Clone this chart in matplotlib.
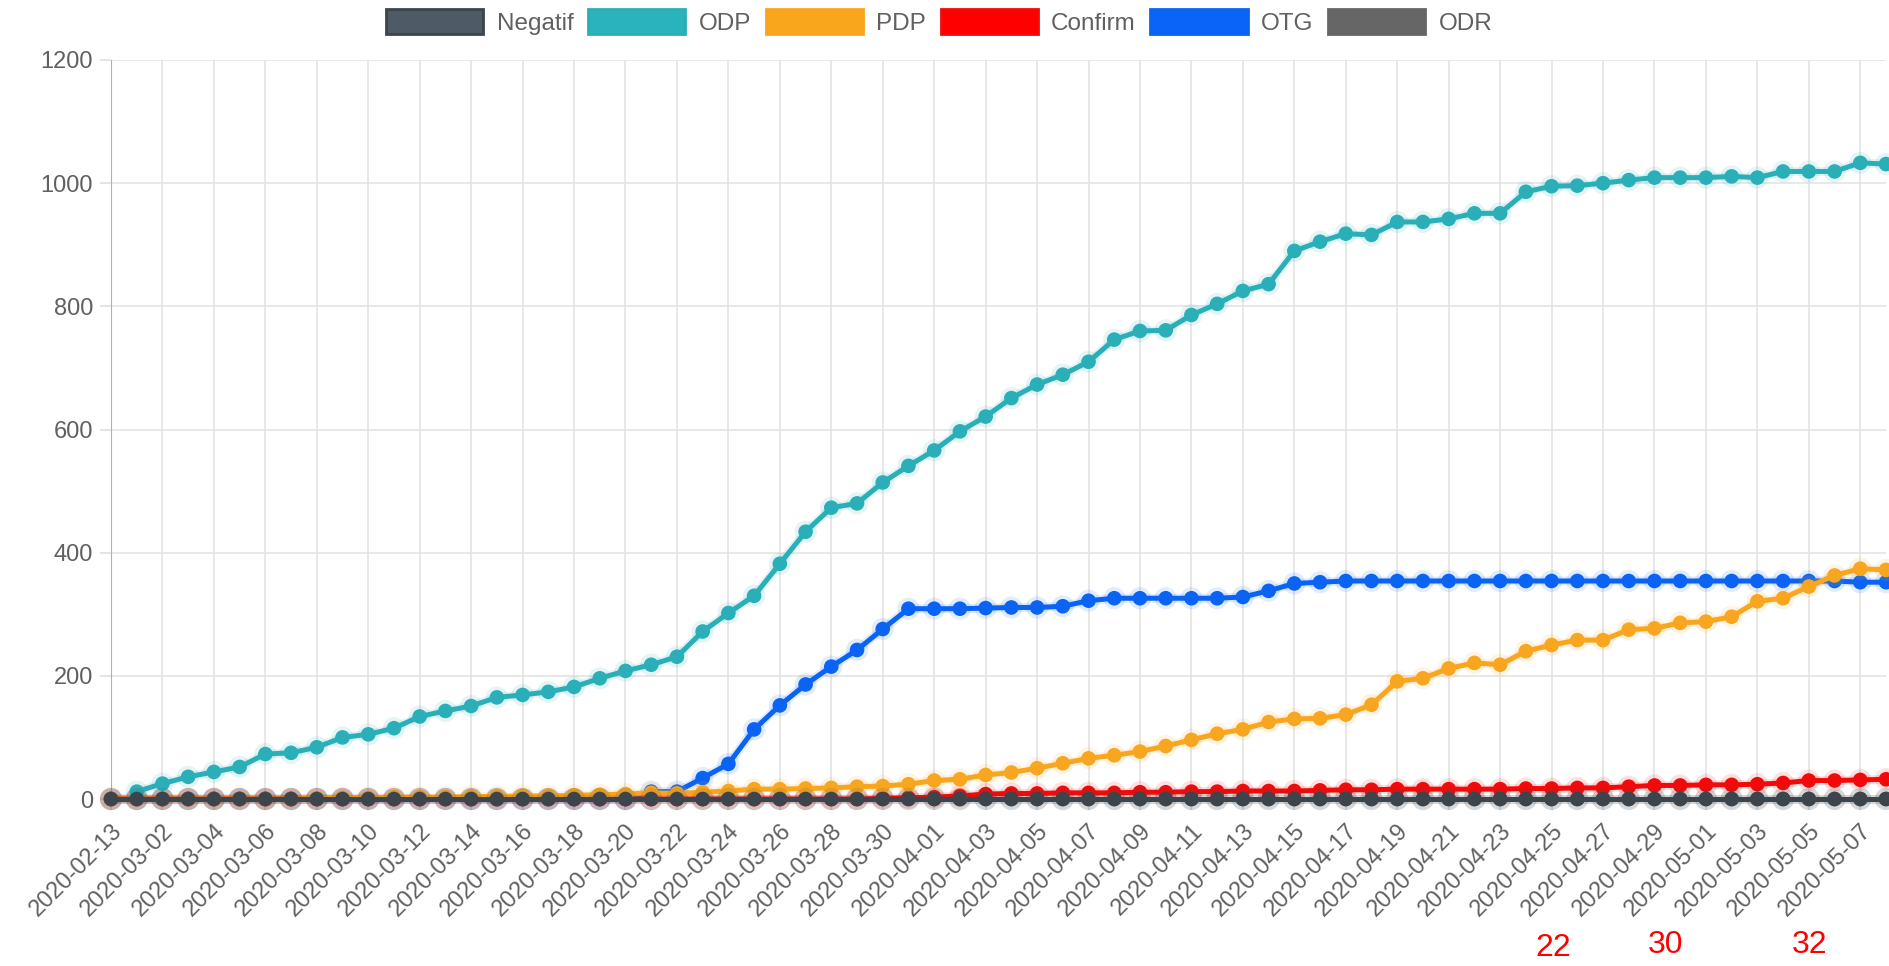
# Recreacion del grafico de seguimiento (Negatif / ODP / PDP / Confirm / OTG / ODR)
import numpy as np
import pandas as pd
import matplotlib.pyplot as plt
import matplotlib.patheffects as pe
from matplotlib.patches import Patch

plt.rcParams['font.family'] = ['Liberation Sans', 'DejaVu Sans']

# Categorias (fechas)
fechas = ['2020-02-13'] + [d.strftime('%Y-%m-%d') for d in pd.date_range('2020-03-01', '2020-05-08')]

# Series
negatif = [0] * 70
odr = [0] * 70
odp = [np.nan, 12, 25, 36, 44, 52, 73, 75, 84, 100,
       105, 115, 134, 143, 151, 165, 169, 174, 182, 196,
       208, 218, 231, 272, 302, 330, 382, 434, 473, 480,
       514, 541, 566, 597, 621, 651, 673, 689, 710, 746,
       760, 761, 786, 804, 825, 836, 890, 905, 918, 916,
       937, 937, 942, 951, 951, 986, 995, 996, 1000, 1005,
       1009, 1009, 1009, 1011, 1009, 1019, 1019, 1019, 1033, 1031]
pdp = [0, 0, 0, 0, 0, 0, 0, 0, 1, 2,
       2, 3, 3, 3, 4, 4, 5, 5, 6, 7,
       8, 10, 9, 11, 13, 16, 16, 17, 18, 20,
       21, 24, 30, 32, 39, 43, 50, 58, 66, 71,
       77, 86, 96, 106, 113, 125, 130, 131, 137, 153,
       191, 196, 212, 221, 218, 240, 250, 258, 258, 275,
       277, 286, 288, 296, 321, 326, 345, 363, 374, 372]
confirm = [0] * 30 + [1, 2, 3, 5, 8, 9, 9, 10, 10, 10,
                      11, 11, 12, 12, 13, 13, 13, 14, 15, 15,
                      16, 16, 16, 16, 16, 17, 17, 18, 18, 20,
                      22, 22, 23, 23, 24, 26, 30, 30, 31, 32]
otg = [0] * 21 + [12, 12, 34, 57, 113, 152, 186, 215, 242,
                  276, 309, 309, 309, 310, 311, 311, 313, 322, 326,
                  326, 326, 326, 326, 328, 338, 350, 352, 354, 354,
                  354, 354, 354, 354, 354, 354, 354, 354, 354, 354,
                  354, 354, 354, 354, 354, 354, 354, 354, 352, 352]

series = ['Negatif', 'ODP', 'PDP', 'Confirm', 'OTG', 'ODR']
valores = [negatif, odp, pdp, confirm, otg, odr]
colores = ['#3c444c', '#2aafb8', '#f8a51f', '#f20a0a', '#0b63f4', '#666666']
relleno = ['#4e5a65', '#2ab3bc', '#f9a61d', '#ff0000', '#0a64f8', '#666666']

anotaciones = ['22', '30', '32']

fig = plt.figure(figsize=(18.9, 9.66), dpi=100)
ax = fig.add_axes([111 / 1890, 1 - 799 / 966, (1886 - 111) / 1890, (799 - 60) / 966])

x = np.arange(len(fechas))
# Chart.js dibuja el primer dataset encima
for nombre, vals, col in reversed(list(zip(series, valores, colores))):
    ax.plot(x, vals, color=col, lw=3.6, marker='o', ms=9.5, mfc=col, mec=col,
            clip_on=False, zorder=3,
            path_effects=[pe.Stroke(linewidth=6.5, foreground=col, alpha=0.12), pe.Normal()])

ax.set_xlim(0, len(fechas) - 1)
ax.set_ylim(0, 1200)
ax.set_yticks(range(0, 1201, 200))
ax.set_xticks(x[::2])
ax.set_xticklabels(fechas[::2], rotation=45, ha='right', rotation_mode='anchor')
ax.grid(True, color='#e2e2e2', lw=1.1, zorder=0)
ax.tick_params(axis='both', colors='#dcdcdc', labelcolor='#606060', labelsize=17,
               length=8, width=1.1)
ax.tick_params(axis='x', pad=7)
ax.tick_params(axis='y', pad=5)
for lbl in ax.get_xticklabels():
    lbl.set_x(lbl.get_position()[0])
for s in ['top', 'right']:
    ax.spines[s].set_visible(False)
ax.spines['left'].set_color('#b0b0b0')
ax.spines['bottom'].set_color('#c4c4c4')
ax.set_axisbelow(True)

handles = [Patch(facecolor=r, edgecolor=c, linewidth=2) for r, c in zip(relleno, colores)]
fig.legend(handles, series, loc='upper center', bbox_to_anchor=(0.497, 1.0), ncol=6,
           frameon=False, fontsize=17.5, handlelength=4.0, handleheight=1.25,
           handletextpad=0.55, columnspacing=0.6, borderpad=0.35, borderaxespad=0,
           labelcolor='#606060')

# Numeros en rojo bajo el eje
for txt, px, py in zip(anotaciones, [1553, 1666, 1810], [948, 945, 945]):
    fig.text(px / 1890, 1 - py / 966, txt, color='red', fontsize=23, ha='center', va='center')

plt.savefig('out.png', dpi=100)
